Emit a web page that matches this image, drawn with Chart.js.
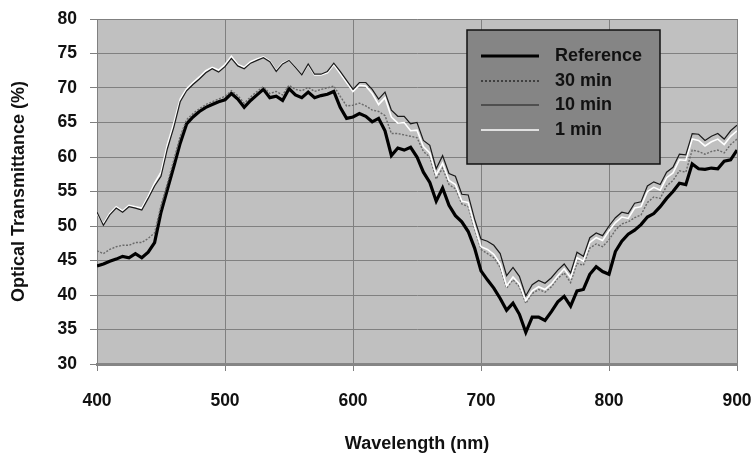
<!DOCTYPE html>
<html>
<head>
<meta charset="utf-8">
<script src="https://cdn.jsdelivr.net/npm/chart.js@4/dist/chart.umd.min.js"></script>
<style>
  html, body { margin: 0; padding: 0; background: #fff; }
  #wrap { width: 752px; height: 459px; }
</style>
</head>
<body>
<div id="wrap"><canvas id="specChart" width="752" height="459"></canvas></div>
<script>
// wavelength grid (nm)
const wavelengths = [
  400, 405, 410, 415, 420, 425, 430, 435, 440, 445, 450, 455, 460, 465, 470, 475, 480, 485, 490, 495,
  500, 505, 510, 515, 520, 525, 530, 535, 540, 545, 550, 555, 560, 565, 570, 575, 580, 585, 590, 595,
  600, 605, 610, 615, 620, 625, 630, 635, 640, 645, 650, 655, 660, 665, 670, 675, 680, 685, 690, 695,
  700, 705, 710, 715, 720, 725, 730, 735, 740, 745, 750, 755, 760, 765, 770, 775, 780, 785, 790, 795,
  800, 805, 810, 815, 820, 825, 830, 835, 840, 845, 850, 855, 860, 865, 870, 875, 880, 885, 890, 895, 900
];

const reference = [
  44.2, 44.5, 44.9, 45.2, 45.6, 45.4, 46.0, 45.4, 46.2, 47.6, 52.0, 55.3, 58.6, 62.0, 64.8, 65.8, 66.6, 67.2, 67.6, 68.0,
  68.3, 69.2, 68.4, 67.2, 68.2, 69.0, 69.8, 68.6, 68.8, 68.2, 69.9, 69.0, 68.6, 69.4, 68.6, 68.9, 69.1, 69.5, 67.2, 65.6,
  65.8, 66.3, 65.9, 65.1, 65.6, 63.8, 60.2, 61.3, 61.0, 61.4, 60.0, 57.8, 56.3, 53.6, 55.5, 53.0, 51.5, 50.6, 49.2, 46.8,
  43.5, 42.2, 41.0, 39.5, 37.8, 38.8, 37.2, 34.6, 36.8, 36.8, 36.3, 37.6, 39.0, 39.8, 38.4, 40.6, 40.8, 43.0, 44.1, 43.4,
  43.0, 46.3, 47.8, 48.8, 49.4, 50.2, 51.3, 51.8, 52.8, 54.0, 55.0, 56.2, 56.0, 59.0, 58.3, 58.2, 58.4, 58.3, 59.4, 59.6, 61.0
];

const min30 = [
  46.4, 46.0, 46.6, 47.0, 47.2, 47.2, 47.6, 47.6, 48.2, 49.0, 53.0, 56.2, 59.6, 63.0, 65.4, 66.3, 67.0, 67.6, 68.0, 68.4,
  68.8, 69.6, 68.9, 67.8, 68.7, 69.5, 70.2, 69.2, 69.5, 69.0, 70.4, 69.8, 69.6, 70.1, 69.5, 69.8, 70.0, 70.3, 68.8, 67.4,
  67.5, 67.8, 67.4, 66.8, 66.6, 66.0, 63.4, 63.4, 63.2, 63.0, 62.8, 60.8, 60.0, 56.8, 58.4, 56.0, 55.4, 53.2, 52.8, 49.6,
  46.6, 46.0, 45.4, 44.0, 41.0, 42.2, 41.2, 38.8, 40.2, 40.8, 40.4, 41.2, 42.4, 43.2, 41.8, 44.6, 44.3, 46.8, 47.4, 47.0,
  48.0, 49.4, 50.3, 50.6, 51.2, 51.6, 53.4, 54.2, 54.0, 55.8, 56.6, 58.0, 57.8, 61.0, 60.8, 60.4, 60.8, 61.0, 60.6, 61.8, 62.6
];

const min10 = [
  52.0, 50.1, 51.6, 52.6, 52.0, 52.8, 52.6, 52.3, 54.0, 55.8, 57.2, 61.2, 64.3, 68.0, 69.6, 70.5, 71.3, 72.2, 72.8, 72.3,
  73.1, 74.3, 73.2, 72.8, 73.6, 74.0, 74.4, 73.8, 72.4, 73.5, 74.0, 73.0, 71.9, 73.5, 72.0, 72.0, 72.4, 73.6, 72.4, 71.1,
  69.8, 70.8, 70.8, 69.8, 68.4, 69.4, 66.8, 65.9, 65.9, 64.8, 65.0, 62.4, 61.7, 58.3, 60.2, 57.6, 57.2, 54.6, 54.5, 51.0,
  48.1, 47.8, 47.2, 46.0, 42.8, 44.0, 42.7, 39.9, 41.5, 42.1, 41.7, 42.5, 43.6, 44.5, 43.2, 46.2, 45.6, 48.3, 49.0, 48.6,
  50.0, 51.2, 52.0, 51.8, 53.3, 53.5, 55.8, 56.4, 56.0, 57.8, 58.5, 60.4, 60.3, 63.4, 63.3, 62.4, 63.0, 63.4, 62.6, 63.8, 64.6
];

const min1 = [
  51.8, 50.3, 51.8, 52.8, 52.2, 53.0, 52.8, 52.6, 54.3, 56.2, 57.8, 61.8, 64.9, 68.4, 69.9, 70.8, 71.6, 72.5, 73.0, 72.6,
  73.4, 74.6, 73.4, 73.0, 73.8, 74.2, 74.5, 73.9, 72.5, 73.6, 74.0, 73.0, 71.9, 73.4, 71.9, 71.9, 72.2, 73.4, 72.1, 70.8,
  69.5, 70.4, 70.3, 69.2, 67.6, 68.6, 65.8, 64.9, 65.0, 63.8, 63.9, 61.5, 60.6, 57.4, 59.1, 56.6, 56.0, 53.6, 53.4, 50.0,
  47.0, 46.6, 45.9, 44.5, 41.3, 42.6, 41.6, 39.2, 40.6, 41.2, 40.8, 41.6, 42.8, 43.8, 42.5, 45.4, 44.9, 47.6, 48.3, 47.9,
  49.3, 50.5, 51.3, 51.1, 52.6, 52.8, 55.0, 55.6, 55.2, 57.0, 57.7, 59.6, 59.5, 62.6, 62.4, 61.6, 62.2, 62.6, 61.8, 63.0, 63.8
];

const seriesNames = ['Reference', '30 min', '10 min', '1 min'];
const yTicks = [30, 35, 40, 45, 50, 55, 60, 65, 70, 75, 80];
const xTicks = [400, 500, 600, 700, 800, 900];

const FONT = '"Liberation Sans", Arial, sans-serif';

function pts(values) {
  return values.map((v, i) => ({ x: wavelengths[i], y: v }));
}

// grey plot area behind the grid
const plotBackground = {
  id: 'plotBackground',
  beforeDraw(chart) {
    const { ctx, chartArea: a } = chart;
    ctx.save();
    ctx.fillStyle = '#c0c0c0';
    ctx.fillRect(a.left, a.top, a.width, a.height);
    ctx.restore();
  }
};

// boxed legend sitting inside the plot, top right
const boxLegend = {
  id: 'boxLegend',
  afterDatasetsDraw(chart) {
    const { ctx } = chart;
    const bx = 467, by = 30, bw = 193, bh = 134;
    ctx.save();
    ctx.fillStyle = '#858585';
    ctx.fillRect(bx, by, bw, bh);
    ctx.strokeStyle = '#111';
    ctx.lineWidth = 1.5;
    ctx.strokeRect(bx, by, bw, bh);

    const rows = [56, 81, 105, 130];
    chart.data.datasets.forEach((ds, i) => {
      const y = rows[i];
      ctx.beginPath();
      ctx.setLineDash(ds.legendDash || []);
      ctx.strokeStyle = ds.legendColor || ds.borderColor;
      ctx.lineWidth = ds.borderWidth;
      ctx.moveTo(481, y);
      ctx.lineTo(539, y);
      ctx.stroke();
      ctx.setLineDash([]);
      ctx.fillStyle = '#111';
      ctx.font = 'bold 18px ' + FONT;
      ctx.textBaseline = 'middle';
      ctx.fillText(ds.label, 555, y);
    });
    ctx.restore();
  }
};

new Chart(document.getElementById('specChart'), {
  type: 'line',
  data: {
    datasets: [
      { label: seriesNames[0], data: pts(reference), borderColor: '#000', borderWidth: 3.2, order: 4 },
      { label: seriesNames[1], data: pts(min30), borderColor: '#6a6a6a', borderWidth: 1.4, borderDash: [2, 1.5], legendDash: [2, 2], legendColor: '#222', order: 3 },
      { label: seriesNames[2], data: pts(min10), borderColor: '#1a1a1a', borderWidth: 1.2, order: 1 },
      { label: seriesNames[3], data: pts(min1), borderColor: '#ffffff', borderWidth: 1.6, order: 2 }
    ]
  },
  options: {
    responsive: false,
    animation: false,
    parsing: false,
    elements: { point: { radius: 0 }, line: { tension: 0 } },
    layout: { padding: { top: 19, right: 15, left: 0, bottom: 0 } },
    plugins: { legend: { display: false }, tooltip: { enabled: false } },
    scales: {
      x: {
        type: 'linear',
        min: 400,
        max: 900,
        afterBuildTicks(scale) { scale.ticks = xTicks.map(v => ({ value: v })); },
        afterFit(scale) {
          scale.height = 95;
          scale.paddingLeft = 0;
          scale.paddingRight = 0;
        },
        grid: { color: '#808080', lineWidth: 1, tickLength: 7 },
        border: { color: '#858585', width: 3 },
        ticks: { color: '#111', padding: 20, font: { family: FONT, size: 17.5, weight: 'bold' } },
        title: {
          display: true,
          text: 'Wavelength (nm)',
          color: '#111',
          font: { family: FONT, size: 18, weight: 'bold' },
          padding: { top: 0, bottom: 4 }
        }
      },
      y: {
        min: 30,
        max: 80,
        afterBuildTicks(scale) { scale.ticks = yTicks.map(v => ({ value: v })); },
        afterFit(scale) {
          scale.width = 97;
          scale.paddingTop = 0;
          scale.paddingBottom = 0;
        },
        grid: { color: '#808080', lineWidth: 1, tickLength: 7 },
        border: { color: '#808080', width: 1 },
        ticks: { color: '#111', padding: 13, font: { family: FONT, size: 17.5, weight: 'bold' } },
        title: {
          display: true,
          text: 'Optical Transmittance (%)',
          color: '#111',
          font: { family: FONT, size: 18, weight: 'bold' },
          padding: { top: 8, bottom: 0 }
        }
      }
    }
  },
  plugins: [plotBackground, boxLegend]
});
</script>
</body>
</html>
